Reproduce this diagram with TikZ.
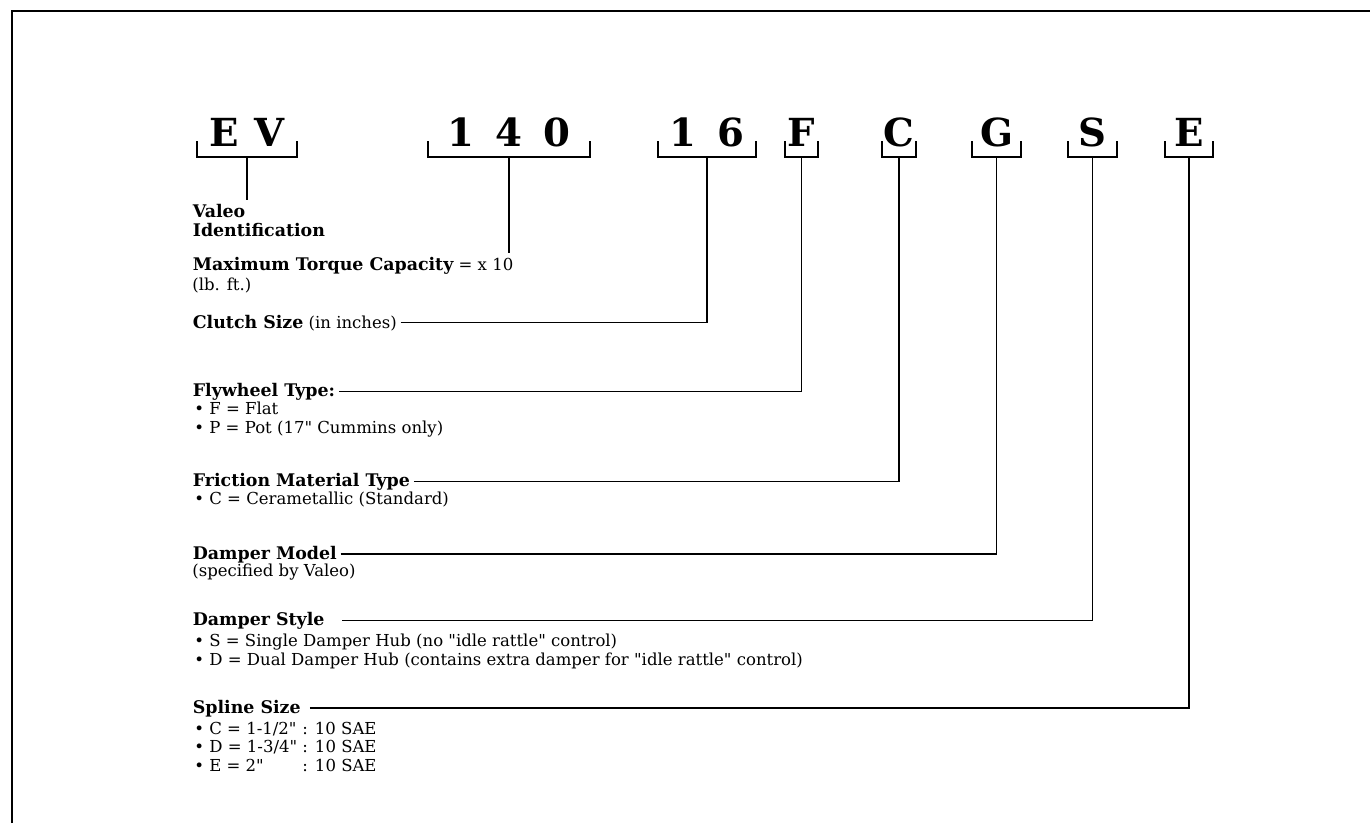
\documentclass[tikz,border=0pt]{standalone}
\usepackage{fontspec}
\setmainfont{DejaVu Serif}[Ligatures=TeXOff]
\usetikzlibrary{positioning}
\newcommand{\hd}[1]{{\fontsize{9.9}{11}\selectfont\bfseries #1}}
\tikzset{
  code/.style={font=\fontsize{22}{24}\selectfont\bfseries, anchor=base, inner sep=0pt},
  brk/.style={line width=0.9pt},
  lead/.style={line width=0.9pt},
  lbl/.style={font=\fontsize{9.4}{11}\selectfont, anchor=base west, inner sep=2pt, align=left},
  lst/.style={font=\fontsize{9.4}{10.5}\selectfont, anchor=north west, inner sep=0pt, align=left},
}
\begin{document}
\begin{tikzpicture}[x=0.02cm, y=-0.02cm]
  \useasboundingbox (0,0) rectangle (1370,823);
  % Frame
  \draw[line width=1.4pt] (12,823) -- (12,11) -- (1370,11);
  % Code letters and brackets
  \foreach \nm/\xa/\xb/\txt in {ev/197/297/E\hspace{9pt}V, c140/428/590/1\hspace{12pt}4\hspace{12pt}0,
      c16/658/756/1\hspace{12pt}6, f/785/818/F, c/882/916/C, g/972/1021/G, s/1068/1117/S, e/1165/1213/E} {
    \node[code] (t\nm) at ({(\xa+\xb)/2},146) {\txt};
    \draw[brk] (\xa,141) -- (\xa,157) -- (\xb,157) -- (\xb,141);
    \coordinate (b\nm) at ({(\xa+\xb)/2},157);
  }
  % Labels
  \node[lbl, anchor=north west] (valeo) at (189,200) {\hd{Valeo}\\\hd{Identification}};
  \node[lbl] (torque) at (189,270) {\hd{Maximum Torque Capacity} = x 10};
  \node[lst, anchor=base west] (lbft) at (192,290) {(lb. ft.)};
  \node[lbl] (clutch) at (189,328) {\hd{Clutch Size} (in inches)};
  \node[lbl] (fly) at (189,396) {\hd{Flywheel Type:}};
  \node[lst] (flylist) at (194,402) {• F = Flat\\• P = Pot (17" Cummins only)};
  \node[lbl] (fric) at (189,486) {\hd{Friction Material Type}};
  \node[lst] (friclist) at (194,492) {• C = Cerametallic (Standard)};
  \node[lbl] (dmodel) at (189,559) {\hd{Damper Model}};
  \node[lst] (dmodellist) at (192,564) {(specified by Valeo)};
  \node[lbl] (dstyle) at (189,625) {\hd{Damper Style}};
  \node[lst] (dstylelist) at (194,634) {• S = Single Damper Hub (no "idle rattle" control)\\
    • D = Dual Damper Hub (contains extra damper for "idle rattle" control)};
  \node[lst] (splinelist) at (194,721) {\begin{tabular}{@{}l@{ }l@{}}
    • C = 1-1/2" & : 10 SAE\\
    • D = 1-3/4" & : 10 SAE\\
    • E = 2" & : 10 SAE\end{tabular}};
  \node[lbl] (spline) at (189,713) {\hd{Spline Size}};
  % Leaders
  \draw[lead] (bev) -- (bev |- valeo.north);
  \draw[lead] (bc140) -- (bc140 |- torque.north);
  \draw[lead] (clutch.east) -| (bc16);
  \draw[lead] (fly.east) -| (bf);
  \draw[lead] (fric.east) -| (bc);
  \draw[lead] (dmodel.east) -| (bg);
  \draw[lead] ([xshift=8pt]dstyle.east) -| (bs);
  \draw[lead] ([xshift=3pt]spline.east) -| (be);
\end{tikzpicture}
\end{document}
